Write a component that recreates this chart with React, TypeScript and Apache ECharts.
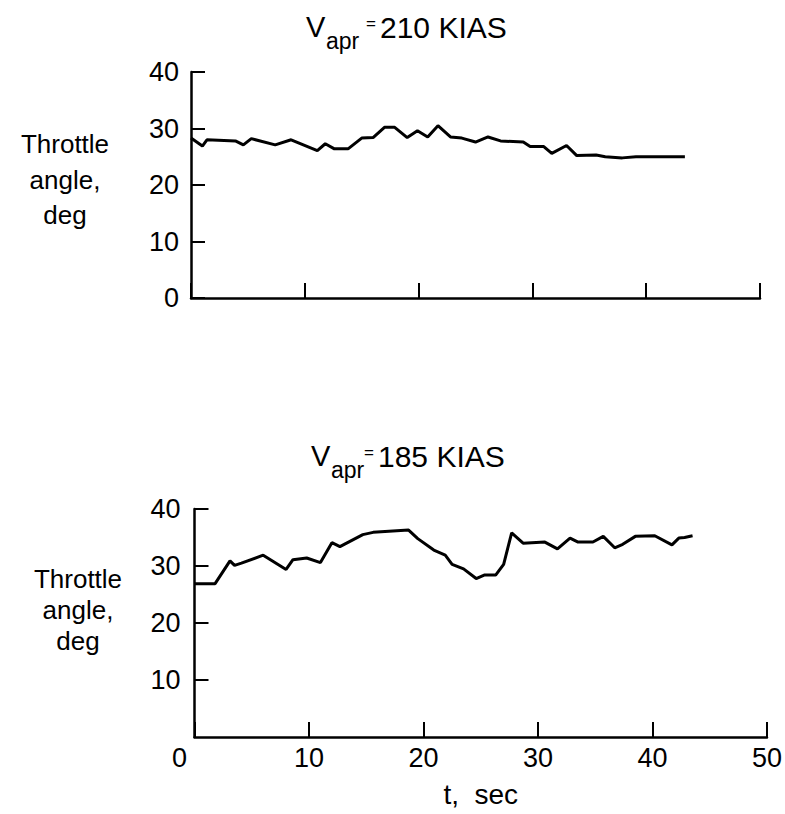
import React, { useEffect, useRef } from "react";
import * as echarts from "echarts";

const topT = [0, 1.0, 1.4, 3.9, 4.6, 5.3, 7.4, 8.8, 11.1, 11.8, 12.6, 13.8, 15.0, 16.0, 17.0, 17.9, 19.0, 19.9, 20.8, 21.7, 22.8, 23.8, 25.0, 26.1, 27.2, 29.2, 29.8, 31.0, 31.7, 33.0, 33.9, 35.6, 36.4, 37.9, 39.1, 43.4];
const topV = [28.3, 26.9, 28.0, 27.8, 27.1, 28.2, 27.1, 28.0, 26.1, 27.3, 26.4, 26.4, 28.3, 28.4, 30.2, 30.2, 28.4, 29.6, 28.5, 30.5, 28.5, 28.3, 27.6, 28.5, 27.8, 27.6, 26.8, 26.8, 25.6, 27.0, 25.2, 25.3, 25.0, 24.8, 25.0, 25.0];

const botT = [0, 1.8, 3.1, 3.5, 4.1, 6.0, 8.0, 8.6, 9.8, 11.0, 12.0, 12.7, 14.7, 15.6, 18.7, 19.5, 20.9, 21.9, 22.5, 23.5, 24.6, 25.3, 26.3, 27.0, 27.7, 28.7, 30.6, 31.7, 32.8, 33.5, 34.8, 35.7, 36.7, 37.4, 38.5, 40.2, 41.7, 42.3, 42.8, 43.5];
const botV = [26.9, 26.9, 30.9, 30.1, 30.5, 31.9, 29.4, 31.1, 31.4, 30.6, 34.1, 33.4, 35.5, 35.9, 36.3, 34.8, 32.8, 31.9, 30.3, 29.5, 27.8, 28.4, 28.4, 30.3, 35.8, 34.0, 34.2, 33.0, 34.9, 34.2, 34.2, 35.2, 33.2, 33.8, 35.2, 35.3, 33.7, 34.9, 35.0, 35.3];

const xTicks = [0, 10, 20, 30, 40, 50];
const yTicks = [0, 10, 20, 30, 40];
const topTitle = ["V", "apr", "=", "210 KIAS"];
const botTitle = ["V", "apr", "=", "185 KIAS"];
const yLabelLines = ["Throttle", "angle,", "deg"];
const xLabel = "t,  sec";

const FONT = "'Liberation Sans', Arial, sans-serif";

export default function App() {
  const ref = useRef<HTMLDivElement>(null);
  useEffect(() => {
    if (!ref.current) return;
    const chart = echarts.init(ref.current, null, { renderer: "svg" });
    const axisLine = { show: true, lineStyle: { color: "#000", width: 2.5 } };
    const tick = { show: true, inside: true, length: 14, lineStyle: { color: "#000", width: 2 } };
    const xMin = xTicks[0];
    const xMax = xTicks[xTicks.length - 1];
    const yMin = yTicks[0];
    const yMax = yTicks[yTicks.length - 1];
    const txt = (text: string, x: number, y: number, size: number, align = "left") => ({
      type: "text", x, y,
      style: { text, font: `${size}px ${FONT}`, fill: "#000", align, verticalAlign: "middle" },
    });
    const titleText = (parts: string[], xs: number[], yc: number) => [
      txt(parts[0], xs[0], yc, 29),
      txt(parts[1], xs[1], yc + 14, 23),
      txt(parts[2], xs[2], yc - 4, 17),
      txt(parts[3], xs[3], yc, 30),
    ];
    const yLab = (cx: number, ys: number[]) => yLabelLines.map((l, i) => txt(l, cx, ys[i], 26, "center"));
    chart.setOption({
      animation: false,
      backgroundColor: "#fff",
      textStyle: { fontFamily: FONT, color: "#000" },
      grid: [
        { left: 191, top: 72, width: 569, height: 226 },
        { left: 194.5, top: 509, width: 572.5, height: 228 },
      ],
      xAxis: [
        {
          gridIndex: 0, type: "value", min: xMin, max: xMax, interval: 10,
          axisLine, axisTick: { ...tick, length: 15 }, axisLabel: { show: false }, splitLine: { show: false },
        },
        {
          gridIndex: 1, type: "value", min: xMin, max: xMax, interval: 10,
          axisLine, axisTick: { ...tick, length: 15 },
          axisLabel: {
            show: true, fontSize: 27, color: "#000", fontFamily: FONT, margin: 7,
            formatter: (v: number) => (v === 0 ? "{z|0}" : String(v)),
            rich: { z: { fontSize: 27, color: "#000", fontFamily: FONT, padding: [0, 30, 0, 0] } },
          },
          splitLine: { show: false },
          name: xLabel, nameLocation: "middle", nameGap: 43,
          nameTextStyle: { fontSize: 28, color: "#000", fontFamily: FONT },
        },
      ],
      yAxis: [
        {
          gridIndex: 0, type: "value", min: yMin, max: yMax, interval: 10,
          axisLine, axisTick: tick,
          axisLabel: { show: true, fontSize: 27, color: "#000", fontFamily: FONT, margin: 12 },
          splitLine: { show: false },
        },
        {
          gridIndex: 1, type: "value", min: yMin, max: yMax, interval: 10,
          axisLine, axisTick: tick,
          axisLabel: { show: true, showMinLabel: false, fontSize: 27, color: "#000", fontFamily: FONT, margin: 14,
            formatter: (v: number) => (v === 0 ? "" : String(v)) },
          splitLine: { show: false },
        },
      ],
      series: [
        {
          type: "line", xAxisIndex: 0, yAxisIndex: 0, showSymbol: false, symbol: "none",
          lineStyle: { color: "#000", width: 3 }, data: topT.map((t, i) => [t, topV[i]]),
        },
        {
          type: "line", xAxisIndex: 1, yAxisIndex: 1, showSymbol: false, symbol: "none",
          lineStyle: { color: "#000", width: 3 }, data: botT.map((t, i) => [t, botV[i]]),
        },
      ],
      graphic: [
        ...titleText(topTitle, [306, 326, 366, 380], 27),
        ...titleText(botTitle, [311, 331, 364, 378], 456),
        ...yLab(65, [144, 180, 215]),
        ...yLab(78, [579, 610, 641]),
      ],
    });
    return () => chart.dispose();
  }, []);
  return <div ref={ref} style={{ position: "absolute", left: 0, top: 0, width: 785, height: 814 }} />;
}
